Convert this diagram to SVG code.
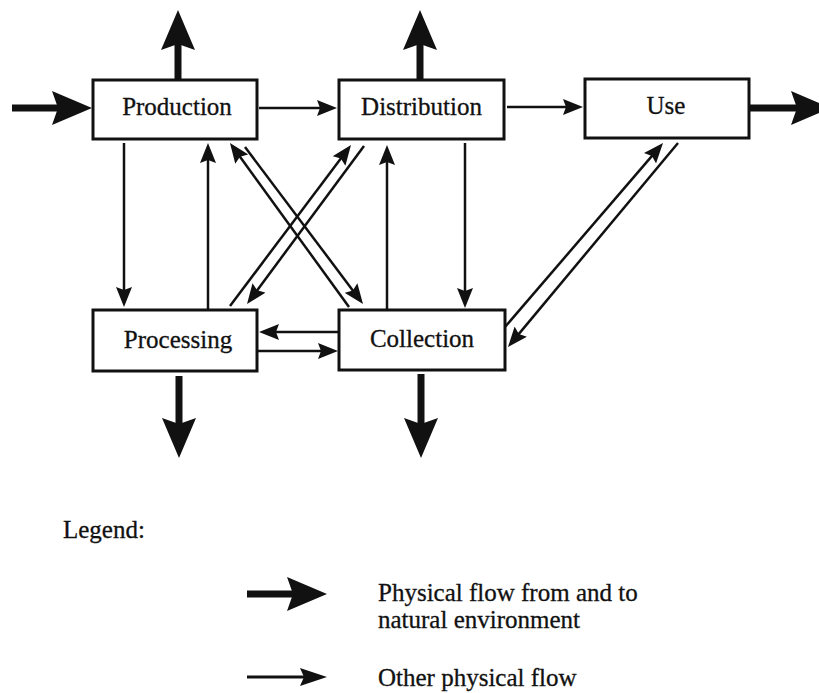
<svg xmlns="http://www.w3.org/2000/svg" width="819" height="693" viewBox="0 0 819 693">
<style>
.box{fill:#fff;stroke:#111;stroke-width:3}
.lbl{font-family:"Liberation Serif","Times New Roman",serif;font-size:25px;fill:#111;stroke:#111;stroke-width:0.3;text-anchor:middle}
.leg{font-family:"Liberation Serif","Times New Roman",serif;font-size:25px;fill:#111;stroke:#111;stroke-width:0.3}
.thin{stroke:#111;stroke-width:2.5;fill:none;marker-end:url(#ah)}
.thick{stroke:#111;stroke-width:7;fill:none;marker-end:url(#AH)}
</style>
<defs>
<marker id="ah" markerUnits="userSpaceOnUse" viewBox="0 0 20 16" refX="14" refY="8" markerWidth="20" markerHeight="16" orient="auto">
<path d="M0,0 L20,8 L0,16 L3,8 z" fill="#111"/>
</marker>
<marker id="ahL" markerUnits="userSpaceOnUse" viewBox="0 0 27 18" refX="20" refY="9" markerWidth="27" markerHeight="18" orient="auto">
<path d="M0,0 L27,9 L0,18 L4,9 z" fill="#111"/>
</marker>
<marker id="AH" markerUnits="userSpaceOnUse" viewBox="0 0 40 34" refX="20" refY="17" markerWidth="40" markerHeight="34" orient="auto">
<path d="M0,0 L40,17 L0,34 L6,17 z" fill="#111"/>
</marker>
</defs>
<g id="connectors">
<line class="thick" x1="12" y1="108" x2="72" y2="108"/>
<line class="thick" x1="178" y1="80" x2="178" y2="30"/>
<line class="thick" x1="420" y1="80" x2="420" y2="30"/>
<line class="thick" x1="749" y1="108" x2="811" y2="108"/>
<line class="thick" x1="179" y1="376" x2="179" y2="438"/>
<line class="thick" x1="421" y1="374" x2="421" y2="438"/>
<line class="thin" x1="259" y1="108" x2="331" y2="108"/>
<line class="thin" x1="507" y1="107" x2="577" y2="107"/>
<line class="thin" x1="124" y1="143" x2="124" y2="301"/>
<line class="thin" x1="208" y1="310" x2="208" y2="149"/>
<line class="thin" x1="349" y1="307" x2="233.5" y2="147.8"/>
<line class="thin" x1="245" y1="147" x2="359.4" y2="299.2"/>
<line class="thin" x1="230" y1="306" x2="347.4" y2="149.8"/>
<line class="thin" x1="364" y1="146" x2="250.6" y2="299.2"/>
<line class="thin" x1="387" y1="310" x2="387" y2="151"/>
<line class="thin" x1="465" y1="143" x2="465" y2="302"/>
<line class="thin" x1="339" y1="332" x2="265" y2="332"/>
<line class="thin" x1="257" y1="351" x2="332" y2="351"/>
<line class="thin" x1="505" y1="327" x2="659.1" y2="147.6"/>
<line class="thin" x1="678" y1="143" x2="511.8" y2="342.4"/>
</g>
<g id="production"><rect class="box" x="93" y="80" width="164" height="59"/><text class="lbl" x="177" y="115">Production</text></g>
<g id="distribution"><rect class="box" x="339" y="80" width="165" height="59"/><text class="lbl" x="421.5" y="115">Distribution</text></g>
<g id="use"><rect class="box" x="585" y="79" width="164" height="59"/><text class="lbl" x="666" y="114">Use</text></g>
<g id="processing"><rect class="box" x="93" y="310" width="164" height="61"/><text class="lbl" x="178" y="348">Processing</text></g>
<g id="collection"><rect class="box" x="339" y="310" width="166" height="60"/><text class="lbl" x="422" y="347">Collection</text></g>
<g id="legend">
<text class="leg" x="63" y="538">Legend:</text>
<line x1="247" y1="594" x2="307" y2="594" stroke="#111" stroke-width="7" marker-end="url(#AH)"/>
<text class="leg" x="378" y="601">Physical flow from and to</text>
<text class="leg" x="378" y="628">natural environment</text>
<line x1="247" y1="677" x2="320" y2="677" stroke="#111" stroke-width="3" marker-end="url(#ahL)"/>
<text class="leg" x="378" y="686">Other physical flow</text>
</g>
</svg>
